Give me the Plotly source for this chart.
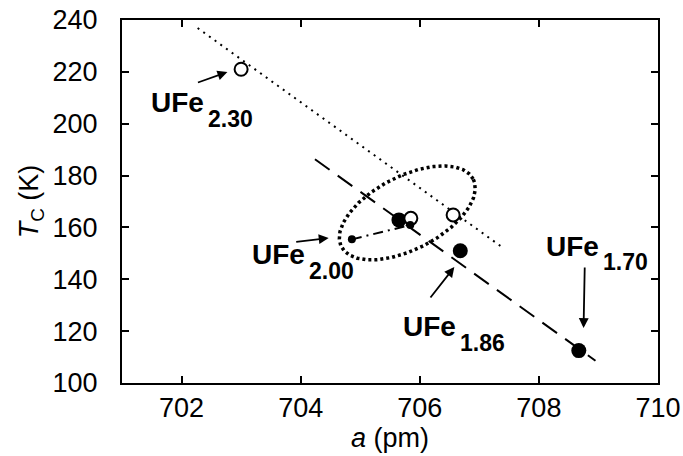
import numpy as np
import plotly.graph_objects as go

# ---- data ----
a_open = [703.0, 705.85, 706.56]
tc_open = [221.0, 163.5, 164.8]
a_filled = [705.65, 706.68, 708.67]
tc_filled = [162.9, 151.0, 112.5]
a_small = [704.86, 705.84]
tc_small = [155.4, 160.9]
fit_dot_a = [702.27, 707.40]
fit_dot_tc = [236.9, 152.1]
fit_dash_a = [704.24, 708.95]
fit_dash_tc = [186.3, 108.6]

x_ticks = [702, 704, 706, 708, 710]
y_ticks = [100, 120, 140, 160, 180, 200, 220, 240]

# labels: (main, subscript, text_x, text_y, arrow tail x, tail y, head x, head y)
labels = [
    ("UFe", "2.30", 701.45, 208.0, 702.25, 215.7, 702.77, 219.9),
    ("UFe", "2.00", 703.15, 149.4, 703.90, 154.4, 704.47, 155.9),
    ("UFe", "1.86", 705.68, 121.6, 706.16, 132.4, 706.58, 144.7),
    ("UFe", "1.70", 708.08, 152.8, 708.77, 145.1, 708.75, 121.2),
]

# ellipse (center in data units, axes in pixels, tilt in degrees)
ell_cx, ell_cy = 705.79, 165.6
ell_a_px, ell_b_px, ell_tilt = 74.1, 36.6, 27.2

W, H = 683, 456
ML, MR, MT, MB = 122, 25, 20, 73
xr = [701, 710]
yr = [100, 240]
sx = (W - ML - MR) / (xr[1] - xr[0])
sy = (H - MT - MB) / (yr[1] - yr[0])

t = np.linspace(0, 2 * np.pi, 400)
th = np.deg2rad(ell_tilt)
u = ell_a_px * np.cos(t) * np.cos(th) - ell_b_px * np.sin(t) * np.sin(th)
v = ell_a_px * np.cos(t) * np.sin(th) + ell_b_px * np.sin(t) * np.cos(th)
ell_x = ell_cx + u / sx
ell_y = ell_cy + v / sy

FONT = "Liberation Sans, Arial, sans-serif"

fig = go.Figure()
fig.add_trace(go.Scatter(x=fit_dot_a, y=fit_dot_tc, mode="lines",
                         line=dict(color="black", width=2, dash="2px,5px")))
fig.add_trace(go.Scatter(x=fit_dash_a, y=fit_dash_tc, mode="lines",
                         line=dict(color="black", width=2, dash="18px,10px")))
fig.add_trace(go.Scatter(x=ell_x, y=ell_y, mode="lines",
                         line=dict(color="black", width=3.5, dash="3px,3px")))
fig.add_trace(go.Scatter(x=a_filled, y=tc_filled, mode="markers",
                         marker=dict(color="black", size=15, line=dict(width=0))))
fig.add_trace(go.Scatter(x=a_open, y=tc_open, mode="markers",
                         marker=dict(color="white", size=13, line=dict(color="black", width=2))))
fig.add_trace(go.Scatter(x=a_small, y=tc_small, mode="lines+markers",
                         line=dict(color="black", width=2, dash="10px,5px,2px,5px"),
                         marker=dict(color="black", size=8)))

for main, sub, tx, ty, x0, y0, x1, y1 in labels:
    fig.add_annotation(x=tx, y=ty, xref="x", yref="y", text="<b>%s</b>" % main,
                       showarrow=False, xanchor="left", yanchor="middle",
                       font=dict(size=28, color="black", family=FONT))
    fig.add_annotation(x=tx, y=ty, xref="x", yref="y", text="<b>%s</b>" % sub,
                       showarrow=False, xanchor="left", yanchor="middle",
                       xshift=57, yshift=-16,
                       font=dict(size=23, color="black", family=FONT))
    fig.add_annotation(x=x1, y=y1, ax=x0, ay=y0, xref="x", yref="y",
                       axref="x", ayref="y", text="", showarrow=True,
                       arrowhead=2, arrowsize=1.1, arrowwidth=1.8,
                       arrowcolor="black", standoff=0, startstandoff=0)

axis_common = dict(showline=True, linecolor="black", linewidth=2, mirror="ticks",
                   ticks="inside", ticklen=7, tickwidth=2, tickcolor="black",
                   showgrid=False, zeroline=False,
                   tickfont=dict(size=27, color="black", family=FONT))

fig.update_xaxes(range=xr, tickvals=x_ticks, ticklabelstandoff=0,
                 title=dict(text="<i>a</i> (pm)", standoff=0,
                            font=dict(size=27, color="black", family=FONT)),
                 **axis_common)
fig.update_yaxes(range=yr, tickvals=y_ticks, ticklabelstandoff=17,
                 title=dict(text="<i>T</i><sub>C</sub> (K)", standoff=6,
                            font=dict(size=27, color="black", family=FONT)),
                 **axis_common)

fig.update_layout(width=W, height=H, showlegend=False,
                  margin=dict(l=ML, r=MR, t=MT, b=MB, autoexpand=False),
                  plot_bgcolor="white", paper_bgcolor="white",
                  font=dict(family=FONT, color="black"))

fig.write_html("out.html", config={"displayModeBar": False},
               post_script="document.body.style.margin='0';"
                           "document.body.style.overflow='hidden';")
